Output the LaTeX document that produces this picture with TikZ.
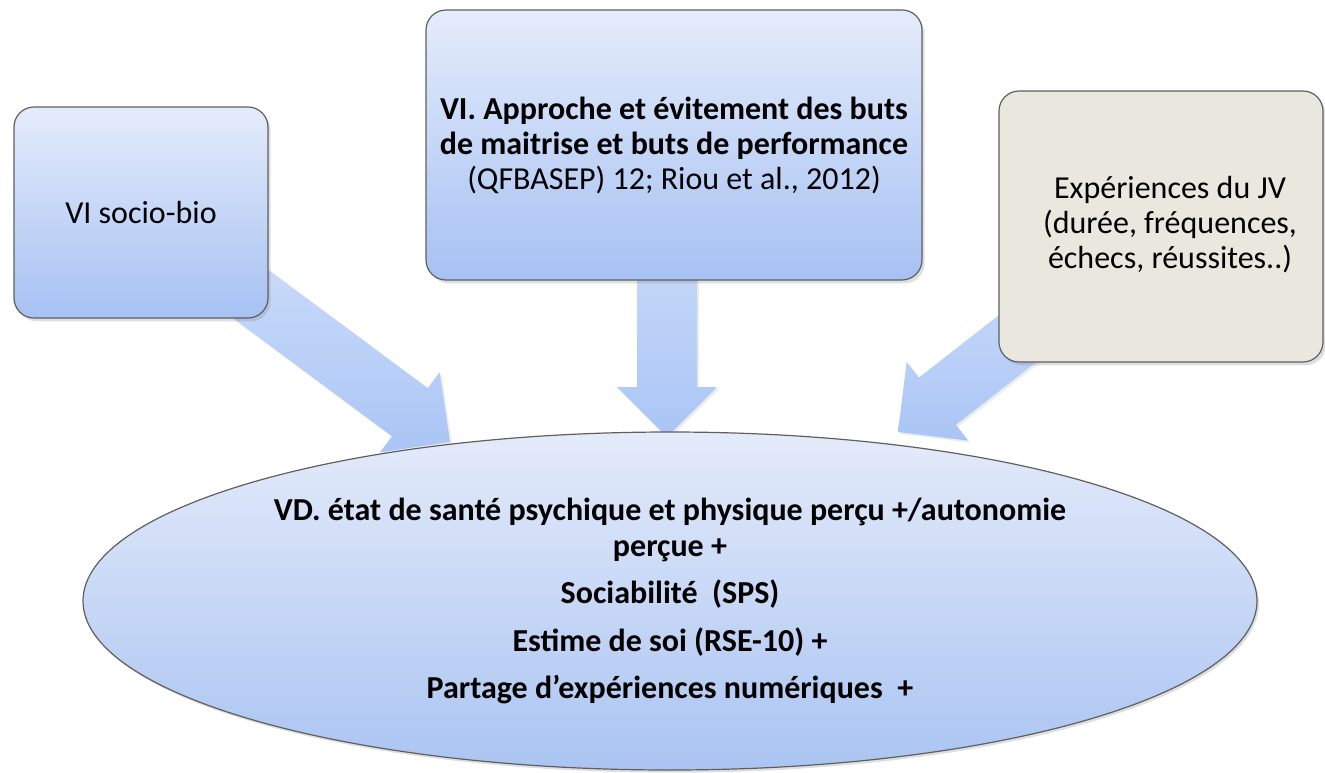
\documentclass[tikz,border=0pt]{standalone}
\usepackage{fontspec}
\setmainfont{Carlito}
\usetikzlibrary{shapes.geometric,calc,shadows,backgrounds}
\definecolor{boxtop}{RGB}{229,236,251}
\definecolor{boxbot}{RGB}{166,193,243}
\definecolor{elltop}{RGB}{228,235,250}
\definecolor{ellbot}{RGB}{170,196,242}
\definecolor{arrtop}{RGB}{214,227,251}
\definecolor{arrbot}{RGB}{170,197,245}
\definecolor{beige}{RGB}{234,232,222}
\definecolor{edgegray}{RGB}{95,95,95}
\tikzset{
  basebox/.style={draw=edgegray, line width=0.9pt, rounded corners=15pt, align=center,
    font=\fontsize{24}{26.25}\selectfont, inner sep=0pt,
    drop shadow={shadow xshift=2pt, shadow yshift=-2.5pt, opacity=0.25}},
  bluebox/.style={basebox, top color=boxtop, bottom color=boxbot},
  beigebox/.style={basebox, fill=beige},
  oval/.style={ellipse, draw=edgegray, line width=0.9pt, top color=elltop, bottom color=ellbot,
    align=center, inner sep=0pt, font=\fontsize{24}{27}\selectfont\bfseries,
    drop shadow={shadow xshift=1.5pt, shadow yshift=-2pt, opacity=0.25}},
  fatarrowstyle/.style={top color=arrtop, bottom color=arrbot,
    drop shadow={shadow xshift=1.5pt, shadow yshift=-1.5pt, opacity=0.15}}
}
\newcommand\fatarrow[3]{%
  \coordinate (#3b) at ($(#2)!37.5pt!(#1)$);
  \shade[fatarrowstyle] ($(#1)!22.5pt!90:(#2)$) -- ($(#3b)!22.5pt!90:(#2)$)
    -- ($(#3b)!37.5pt!90:(#2)$) -- (#2) -- ($(#3b)!37.5pt!-90:(#2)$)
    -- ($(#3b)!22.5pt!-90:(#2)$) -- ($(#1)!22.5pt!-90:(#2)$) -- cycle;
}
\begin{document}
\begin{tikzpicture}[x=0.75pt,y=-0.75pt]
\useasboundingbox (0,0) rectangle (1325,772);

\node[bluebox, minimum width=190.5pt, minimum height=158.25pt] (socio) at (141,212.5) {VI socio-bio};

\node[bluebox, minimum width=372pt, minimum height=202.5pt] (mid) at (674,145)
  {\textbf{VI. Approche et évitement des buts}\\
   \textbf{de maitrise et buts de performance}\\
   (QFBASEP) 12; Riou et al., 2012)};

\node[beigebox, minimum width=243pt, minimum height=203.25pt] (jv) at (1161,226.5)
  {\hspace*{13.5pt}\begin{tabular}{@{}c@{}}Expériences du JV\\(durée, fréquences,\\échecs, réussites..)\end{tabular}};

\node[oval, minimum width=880.5pt, minimum height=253.5pt] (vd) at (670,601)
  {VD. état de santé psychique et physique perçu +/autonomie\\
   perçue +\\[8.5pt]
   Sociabilité~ (SPS)\\[8.5pt]
   Estime de soi (RSE-10) +\\[8.5pt]
   Partage d’expériences numériques~ +};

\begin{scope}[on background layer]
  \coordinate (tipL) at (450,442);
  \coordinate (tipM) at (667,437);
  \coordinate (tipR) at (898,432);
  \coordinate (sL) at (socio.center);
  \coordinate (sM) at (tipM |- mid.center);
  \coordinate (sR) at (jv.center);
  \fatarrow{sL}{tipL}{aL}
  \fatarrow{sM}{tipM}{aM}
  \fatarrow{sR}{tipR}{aR}
\end{scope}
\end{tikzpicture}
\end{document}
